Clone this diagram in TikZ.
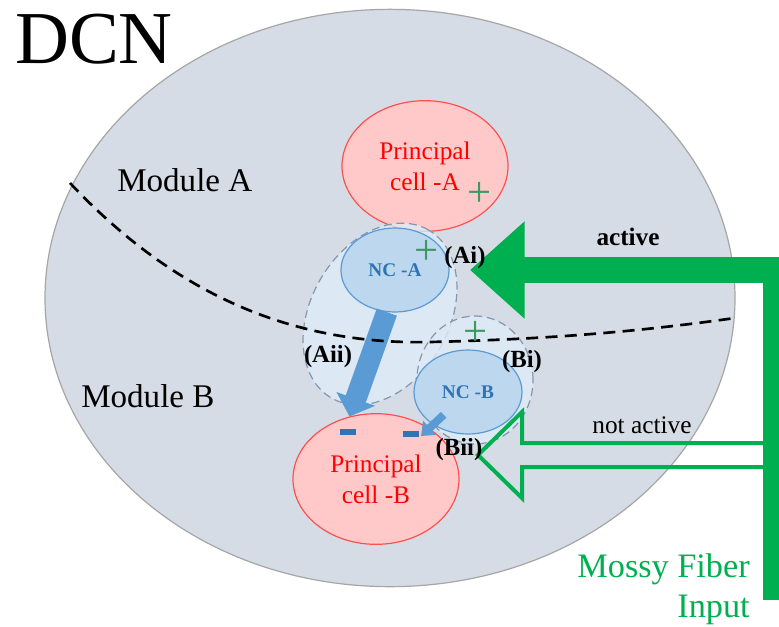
\documentclass[tikz,border=0pt]{standalone}
\usepackage{fontspec}
\setmainfont{Liberation Serif}
\usetikzlibrary{arrows.meta,shapes.geometric,calc}
\definecolor{dcnfill}{HTML}{D6DCE5}
\definecolor{dcnline}{HTML}{A6A6A6}
\definecolor{pcfill}{HTML}{FFC9C9}
\definecolor{pcline}{HTML}{FF5050}
\definecolor{pctext}{HTML}{FF0000}
\definecolor{ncfill}{HTML}{BDD7EE}
\definecolor{ncline}{HTML}{5B9BD5}
\definecolor{nctext}{HTML}{2E75B6}
\definecolor{zonefill}{HTML}{DEEBF7}
\definecolor{zoneline}{HTML}{8497B0}
\definecolor{mossy}{HTML}{00B050}
\definecolor{plusgreen}{HTML}{3C9A5F}

\begin{document}
\begin{tikzpicture}[x=0.75pt,y=-0.75pt,>=Latex,
  pcell/.style={ellipse,draw=pcline,fill=pcfill,line width=0.9pt,minimum width=124.5pt,minimum height=98pt,inner sep=0pt,text=pctext,align=center,font=\fontsize{19}{23}\selectfont},
  nccell/.style={ellipse,draw=ncline,fill=ncfill,line width=0.9pt,minimum width=81pt,minimum height=63pt,inner sep=0pt,text=nctext,font=\fontsize{14.5}{17}\selectfont\bfseries},
  nczone/.style={ellipse,draw=zoneline,fill=zonefill,fill opacity=0.8,dash pattern=on 6pt off 3.5pt,line width=0.9pt,inner sep=0pt},
  synlabel/.style={font=\fontsize{18.5}{20}\selectfont\bfseries,inner sep=0pt},
  plussign/.style={text=plusgreen,font=\fontsize{32}{32}\selectfont,inner sep=0pt},
  minussign/.style={fill=nctext,minimum width=12pt,minimum height=3.8pt,inner sep=0pt},
  inhib/.style={draw=ncline,line width=16pt,-{Triangle[length=14pt,width=30pt]}},
  inhibsmall/.style={draw=ncline,line width=6pt,-{Triangle[length=9pt,width=14pt]}},
  activefiber/.style={draw=mossy,line width=19.5pt,-{Triangle[length=41pt,width=70.5pt]}},
  idlefiber/.style={draw=mossy,line width=3pt},
  border/.style={draw=black,dash pattern=on 9pt off 5.5pt,line width=2pt}]
  \useasboundingbox (0,0) rectangle (779,626);
  \fill[white] (0,0) rectangle (779,626);

  \node[ellipse,draw=dcnline,fill=dcnfill,line width=0.9pt,minimum width=517.5pt,minimum height=433pt] (dcn) at (390,298) {};
  \node[anchor=base west,inner sep=0pt,font=\fontsize{56}{56}\selectfont] (dcntitle) at (15,63) {DCN};
  \node[anchor=base west,inner sep=0pt,font=\fontsize{24.8}{28}\selectfont] (modA) at (117,191) {Module A};
  \node[anchor=base west,inner sep=0pt,font=\fontsize{24.8}{28}\selectfont] (modB) at (81,407) {Module B};

  \node[pcell] (pcA) at (425,166) {Principal\\cell -A};
  \node[pcell] (pcB) at (376,479) {Principal\\cell -B};

  \node[nczone,rotate=60,minimum width=145.5pt,minimum height=103.5pt] (zoneA) at (380,314) {};
  \node[nczone,minimum width=87pt,minimum height=96pt] (zoneB) at (475,380) {};
  \node[nccell] (ncA) at (395,270) {NC -A};
  \node[nccell] (ncB) at (468,392) {NC -B};

  \coordinate (biiend) at (421,436);
  \draw[inhib] (ncA.259) -- (pcB.113);
  \draw[inhibsmall,shorten <=25pt] (ncB.center) -- (biiend);

  \draw[border] (70,183) .. controls (180,300) and (300,345) .. (430,342) .. controls (560,339) and (650,330) .. (735,318);

  \coordinate (biitip) at (478,455);
  \coordinate (mfbottom) at (776,600);
  \coordinate (aitip) at (470,270);
  \draw[idlefiber] ($(biitip)+(292,-12)$) -- ++(-248,0) -- ++(0,-31) -- (biitip) -- ++(44,43) -- ++(0,-31) -- ++(248,0);
  \draw[activefiber] (mfbottom) |- (aitip);

  \node[minussign] (mA) at (348,432) {};
  \node[minussign] (mB) at (411,434) {};
  \node[plussign] (pA) at (480,194) {+};
  \node[plussign] (pAi) at (427,252) {+};
  \node[plussign] (pBi) at (476,333) {+};

  \node[synlabel] (ai) at (465,258) {(Ai)};
  \node[synlabel] (aii) at (328,357) {(Aii)};
  \node[synlabel] (bi) at (522,362) {(Bi)};
  \node[synlabel] (bii) at (459,450) {(Bii)};

  \node[anchor=base,inner sep=0pt,font=\fontsize{18.9}{20}\selectfont\bfseries] (act) at (628,245) {active};
  \node[anchor=base,inner sep=0pt,font=\fontsize{19}{20}\selectfont] (nact) at (642,433) {not active};
  \node[anchor=base east,inner sep=0pt,text=mossy,font=\fontsize{25.7}{30}\selectfont] (mossyA) at (750,577) {Mossy Fiber};
  \node[anchor=base east,inner sep=0pt,text=mossy,font=\fontsize{25.7}{30}\selectfont] (mossyB) at (750,617) {Input};
\end{tikzpicture}
\end{document}
